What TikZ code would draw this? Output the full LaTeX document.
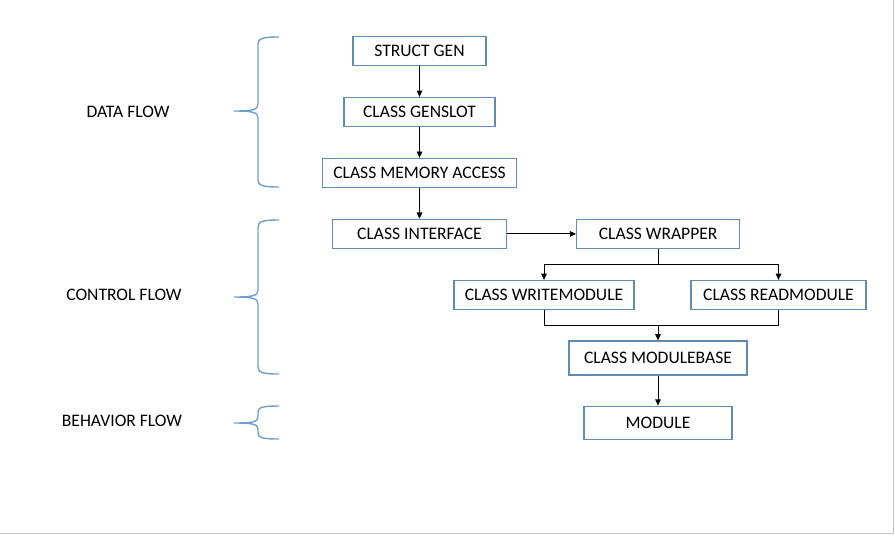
\documentclass[tikz,border=0pt]{standalone}
\usepackage{fontspec}
\setmainfont{Carlito}
\usepackage{tikz}
\usetikzlibrary{arrows.meta, positioning}
\definecolor{boxblue}{RGB}{95, 140, 180}
\definecolor{braceblue}{RGB}{110, 160, 205}

\begin{document}
\begin{tikzpicture}[
  x=0.02cm, y=-0.02cm,
  >={Triangle[length=3.6pt, width=3.2pt]},
  box/.style={
    rectangle, draw=boxblue, fill=white, line width=0.7pt,
    minimum height=0.58cm, inner sep=0pt,
    text centered, font=\fontsize{10}{12}\selectfont, align=center
  },
  lbl/.style={font=\fontsize{10}{12}\selectfont, align=center},
  brc/.style={draw=braceblue, line width=0.8pt},
  conn/.style={line width=0.55pt}
]
  \useasboundingbox (0,0) rectangle (895,535);
  \draw[gray!45, line width=0.8pt] (0,533.5) -- (893.5,533.5) -- (893.5,0);

  % left column
  \node[box, minimum width=2.66cm] (gen) at (419.5,51) {STRUCT GEN};
  \node[box, minimum width=3.02cm, below=0.615cm of gen]  (slot)  {CLASS GENSLOT};
  \node[box, minimum width=3.88cm, below=0.615cm of slot] (mem)   {CLASS MEMORY ACCESS};
  \node[box, minimum width=3.48cm, below=0.615cm of mem]  (iface) {CLASS INTERFACE};
  \node[box, minimum width=3.26cm, right=1.38cm of iface] (wrap)  {CLASS WRAPPER};

  \node[box, minimum width=3.6cm]  (wmod) at (544,295)   {CLASS WRITEMODULE};
  \node[box, minimum width=3.5cm]  (rmod) at (778.5,295) {CLASS READMODULE};
  \node[box, minimum width=3.56cm, minimum height=0.68cm] (base) at (658,358) {CLASS MODULEBASE};
  \node[box, minimum width=2.96cm, minimum height=0.66cm, below=0.6cm of base] (mod) {MODULE};

  \coordinate (split) at (0,264);
  \coordinate (merge) at (0,325);

  \draw[->, conn] (gen)  -- (slot);
  \draw[->, conn] (slot) -- (mem);
  \draw[->, conn] (mem)  -- (iface);
  \draw[->, conn] (iface) -- (wrap);
  \draw[->, conn] (wrap.south) -- (wrap.south |- split) -| (wmod.north);
  \draw[->, conn] (wrap.south |- split) -| (rmod.north);
  \draw[conn] (wmod.south) |- (base.north |- merge);
  \draw[conn] (rmod.south) |- (base.north |- merge);
  \draw[->, conn] (base.north |- merge) -- (base.north);
  \draw[->, conn] (base) -- (mod);

  % braces
  \draw[brc] (279,37) .. controls (264,37) and (258,38) .. (258,44) -- (258,104)
    .. controls (258,110) and (252,111) .. (234,111)
    .. controls (252,111) and (258,112) .. (258,118) -- (258,180)
    .. controls (258,186) and (264,187) .. (279,187);
  \draw[brc] (279,220) .. controls (264,220) and (258,221) .. (258,227) -- (258,290)
    .. controls (258,296) and (252,297) .. (234,297)
    .. controls (252,297) and (258,298) .. (258,304) -- (258,367)
    .. controls (258,373) and (264,374) .. (279,374);
  \draw[brc] (279,406) .. controls (264,406) and (258,407) .. (258,412) -- (258,417)
    .. controls (258,422) and (252,423) .. (234,423)
    .. controls (252,423) and (258,424) .. (258,429) -- (258,433)
    .. controls (258,438) and (264,439) .. (279,439);

  \node[lbl] (data) at (128,112) {DATA FLOW};
  \node[lbl] (ctrl) at (124,295) {CONTROL FLOW};
  \node[lbl] (behv) at (122,421) {BEHAVIOR FLOW};
\end{tikzpicture}
\end{document}
